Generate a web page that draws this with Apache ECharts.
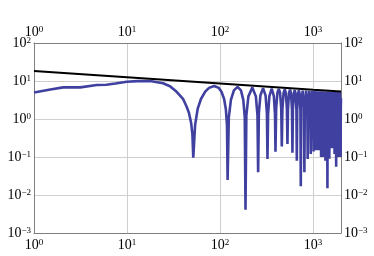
<!DOCTYPE html>
<html>
<head>
<meta charset="utf-8">
<script src="https://cdn.jsdelivr.net/npm/echarts@6/dist/echarts.min.js"></script>
<style>html,body{margin:0;padding:0;background:#fff;}#c{width:374px;height:256px;}</style>
</head>
<body>
<div id="c"></div>
<script>
// Tick labels (exponents of 10)
const xTickValues = [1, 10, 100, 1000];
const xTickExps = ['0', '1', '2', '3'];
const yTickValues = [0.001, 0.01, 0.1, 1, 10, 100];
const yTickExps = ['\u22123', '\u22122', '\u22121', '0', '1', '2'];

// Black reference line
const blackX = [1, 10, 100, 1000, 2000];
const blackY = [18.3, 12.5, 8.6, 5.9, 5.3];

// Blue oscillating curve
const blueX = [1, 1.5, 2.06, 3.14, 4.74, 6, 7.5, 9.95, 13, 17.7, 24.4, 29, 34.2, 40, 43.8, 46.4, 49, 50.5, 51.6,
  54, 57.5, 62.4, 69.3, 76.2, 86.5, 96.9, 103.8, 110.7, 115.5, 118.9, 120.7,
  124.4, 131, 141, 154.5, 168, 178, 184.6, 188,
  192, 202, 222.5, 243, 253, 257,
  261.7, 271.7, 290.5, 309.3, 319.3, 324,
  329, 339.6, 359.5, 379.4, 390, 395,
  401.7, 415, 428.5, 442, 455.3, 462,
  468.9, 482.7, 496.5, 510.3, 524.1, 531,
  538, 552, 566, 580, 594, 601,
  607.9, 621.7, 635.5, 649.3, 663.1, 670,
  676.9, 690.7, 704.5, 718.3, 732.1, 739,
  747.3, 773.5, 799.7, 808,
  816.3, 842.5, 868.7, 877,
  885.3, 911.5, 937.7, 946,
  954.3, 980.5, 1006.7, 1015,
  1023.3, 1049.5, 1075.7, 1084,
  1092.3, 1118.5, 1144.7, 1153,
  1161.3, 1187.5, 1213.7, 1222,
  1230.3, 1256.5, 1282.7, 1291,
  1299.3, 1325.5, 1351.7, 1360,
  1368.3, 1394.5, 1420.7, 1429,
  1437.3, 1463.5, 1489.7, 1498,
  1506.3, 1532.5, 1558.7, 1567,
  1575.3, 1601.5, 1627.7, 1636,
  1644.3, 1670.5, 1696.7, 1705,
  1713.3, 1739.5, 1765.7, 1774,
  1782.3, 1808.5, 1834.7, 1843,
  1851.3, 1877.5, 1903.7, 1912,
  1920.3, 1946.5, 1972.7, 1981,
  1989.3, 2000];
const blueY = [5.0, 6.0, 6.8, 6.8, 7.85, 8.0, 8.6, 9.6, 9.9, 10, 8.7, 7.3, 5.2, 3.4, 2.1, 1.44, 0.77, 0.39, 0.096,
  0.70, 1.84, 3.36, 5.23, 6.59, 7.4, 6.59, 5.23, 3.36, 1.84, 0.70, 0.025,
  1.1, 3.18, 5.66, 7.0, 5.66, 3.18, 1.1, 0.0041,
  1.25, 3.94, 6.7, 3.94, 1.25, 0.04,
  1.42, 4.14, 6.5, 4.14, 1.42, 0.089,
  1.37, 4.0, 6.3, 4.0, 1.37, 0.138,
  1.92, 5.02, 6.2, 5.02, 1.92, 0.19,
  1.85, 4.85, 6.0, 4.85, 1.85, 0.22,
  1.82, 4.77, 5.9, 4.77, 1.82, 0.13,
  1.79, 4.69, 5.8, 4.69, 1.79, 0.08,
  1.76, 4.61, 5.7, 4.61, 1.76, 0.017,
  2.06, 5.6, 2.06, 0.04,
  2.04, 5.55, 2.04, 0.088,
  2.02, 5.5, 2.02, 0.12,
  2.0, 5.45, 2.0, 0.14,
  1.99, 5.4, 1.99, 0.15,
  1.98, 5.38, 1.98, 0.15,
  1.97, 5.35, 1.97, 0.1,
  1.96, 5.33, 1.96, 0.1,
  1.95, 5.3, 1.95, 0.08,
  1.94, 5.28, 1.94, 0.015,
  1.93, 5.25, 1.93, 0.09,
  1.92, 5.23, 1.92, 0.17,
  1.91, 5.2, 1.91, 0.17,
  1.9, 5.18, 1.9, 0.12,
  1.89, 5.16, 1.89, 0.055,
  1.88, 5.14, 1.88, 0.1,
  1.87, 5.12, 1.87, 0.1,
  1.86, 5.1, 1.86, 0.1,
  1.85, 3.5];

const zip = (a, b) => a.map((v, i) => [v, b[i]]);

function makeFormatter(values, exps) {
  return function (v) {
    for (let i = 0; i < values.length; i++) {
      if (Math.abs(Math.log10(v) - Math.log10(values[i])) < 1e-6) return '10{s|' + exps[i] + '}';
    }
    return '';
  };
}

const FONT = 'Liberation Serif';
function labelStyle(values, exps, margin) {
  return {
    show: true,
    margin: margin,
    color: '#000',
    fontFamily: FONT,
    fontSize: 14,
    formatter: makeFormatter(values, exps),
    rich: { s: { fontFamily: FONT, fontSize: 9, color: '#000', verticalAlign: 'top', lineHeight: 9 } }
  };
}
const frameLine = { show: true, lineStyle: { color: '#7f7f7f', width: 1 } };
const gridLine = { show: true, lineStyle: { color: '#cfcfcf', width: 1 } };

const chart = echarts.init(document.getElementById('c'), null, { renderer: 'canvas' });
chart.setOption({
  animation: false,
  backgroundColor: '#fff',
  grid: { left: 34, right: 33, top: 43, bottom: 23, containLabel: false },
  xAxis: [
    { type: 'log', logBase: 10, min: 1, max: 2000, position: 'bottom',
      axisLine: frameLine, axisTick: { show: false }, splitLine: gridLine,
      axisLabel: labelStyle(xTickValues, xTickExps, 5) },
    { type: 'log', logBase: 10, min: 1, max: 2000, position: 'top',
      axisLine: frameLine, axisTick: { show: false }, splitLine: { show: false },
      axisLabel: labelStyle(xTickValues, xTickExps, 4) }
  ],
  yAxis: [
    { type: 'log', logBase: 10, min: 0.001, max: 100, position: 'left',
      axisLine: frameLine, axisTick: { show: false }, splitLine: gridLine,
      axisLabel: labelStyle(yTickValues, yTickExps, 3) },
    { type: 'log', logBase: 10, min: 0.001, max: 100, position: 'right',
      axisLine: frameLine, axisTick: { show: false }, splitLine: { show: false },
      axisLabel: labelStyle(yTickValues, yTickExps, 3) }
  ],
  series: [
    { type: 'line', xAxisIndex: 0, yAxisIndex: 0, data: zip(blueX, blueY), showSymbol: false, symbol: 'none',
      lineStyle: { color: '#4040a0', width: 2.6 }, z: 2 },
    { type: 'line', xAxisIndex: 0, yAxisIndex: 0, data: zip(blackX, blackY), showSymbol: false, symbol: 'none',
      lineStyle: { color: '#000', width: 2 }, z: 3 }
  ]
});
</script>
</body>
</html>
